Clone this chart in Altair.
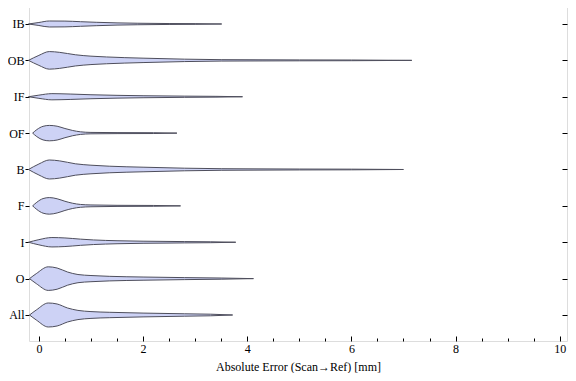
import altair as alt
import pandas as pd

# Categories, bottom (1) to top (9)
categories = ["All", "O", "I", "F", "B", "OF", "IF", "OB", "IB"]

# Violin outlines: x positions (mm) and half-widths (relative density, px-like units)
x_IB = [-0.2, 0.0, 0.2, 0.5, 0.8, 1.1, 1.5, 1.9, 2.5, 3.0, 3.51]
w_IB = [0.0, 1.5, 3.0, 2.9, 2.3, 1.7, 1.1, 0.75, 0.45, 0.35, 0.0]

x_OB = [-0.2, 0.0, 0.2, 0.4, 0.7, 1.0, 1.3, 2.0, 2.8, 3.5, 5.0, 6.0, 7.16]
w_OB = [0.0, 5.0, 8.8, 8.0, 5.6, 4.2, 3.4, 2.2, 1.2, 0.7, 0.45, 0.35, 0.0]

x_IF = [-0.2, 0.0, 0.25, 0.6, 1.0, 1.5, 2.0, 2.8, 3.4, 3.91]
w_IF = [0.0, 1.6, 3.1, 2.7, 2.0, 1.4, 1.0, 0.6, 0.4, 0.0]

x_OF = [-0.12, -0.04, 0.08, 0.2, 0.35, 0.5, 0.65, 0.8, 1.0, 1.5, 2.2, 2.65]
w_OF = [0.0, 3.5, 6.8, 7.7, 6.9, 4.6, 2.6, 1.3, 0.7, 0.5, 0.4, 0.0]

x_B = [-0.2, 0.0, 0.2, 0.4, 0.7, 1.0, 1.35, 2.0, 2.8, 3.5, 5.0, 6.0, 7.0]
w_B = [0.0, 5.5, 9.5, 8.6, 5.7, 4.3, 3.3, 2.3, 1.3, 0.8, 0.45, 0.35, 0.0]

x_F = [-0.12, -0.04, 0.08, 0.2, 0.35, 0.5, 0.65, 0.8, 1.0, 1.5, 2.2, 2.72]
w_F = [0.0, 3.6, 7.3, 8.3, 7.1, 4.6, 2.6, 1.4, 0.9, 0.55, 0.4, 0.0]

x_I = [-0.2, 0.0, 0.25, 0.5, 0.8, 1.05, 1.5, 2.0, 2.8, 3.3, 3.78]
w_I = [0.0, 2.6, 4.7, 4.3, 3.1, 2.3, 1.5, 1.05, 0.65, 0.45, 0.0]

x_O = [-0.18, -0.05, 0.18, 0.35, 0.55, 0.75, 1.0, 1.35, 2.0, 2.8, 3.5, 4.12]
w_O = [0.0, 5.0, 11.8, 10.6, 6.6, 4.1, 3.1, 2.3, 1.6, 1.0, 0.6, 0.0]

x_All = [-0.18, -0.05, 0.18, 0.35, 0.55, 0.75, 1.0, 1.35, 2.0, 2.8, 3.3, 3.72]
w_All = [0.0, 5.0, 12.0, 11.0, 7.0, 4.6, 3.4, 2.7, 1.9, 1.2, 0.8, 0.0]

outlines = {
    "All": (x_All, w_All), "O": (x_O, w_O), "I": (x_I, w_I), "F": (x_F, w_F),
    "B": (x_B, w_B), "OF": (x_OF, w_OF), "IF": (x_IF, w_IF), "OB": (x_OB, w_OB),
    "IB": (x_IB, w_IB),
}

major_ticks = [0, 2, 4, 6, 8, 10]
all_ticks = [i * 0.5 for i in range(21)]

W, H = 538, 342
XD = [-0.19, 10.14]
YD = [0.285, 9.687]
SCALE = 1 / 36.375  # density units -> category units
MIN_W = 0.3

rows = []
for k, cat in enumerate(categories, start=1):
    xs, ws = outlines[cat]
    n = len(xs)
    for i, (x, w) in enumerate(zip(xs, ws)):
        ww = max(w, MIN_W) if 0 < i < n - 1 else w
        rows.append({"cat": cat, "x": x, "lo": k - ww * SCALE, "hi": k + ww * SCALE})
df = pd.DataFrame(rows)

label_expr = "[" + ",".join("'%s'" % c for c in categories) + "][datum.value - 1]"
serif = "Liberation Serif"

xs_ = alt.Scale(domain=XD, nice=False, zero=False)
ys_ = alt.Scale(domain=YD, nice=False, zero=False)
tick_cond = {"condition": {"test": "datum.value % 2 == 0", "value": 5}, "value": 3}

base = alt.Chart(df)

violins = base.mark_area(
    interpolate="monotone", fill="#cdd2f5", stroke="#4e4e5c", strokeWidth=1, strokeJoin="round"
).encode(
    x=alt.X("x:Q", scale=xs_, axis=alt.Axis(
        values=major_ticks, ticks=False, domain=False, grid=False,
        title="Absolute Error (Scan→Ref) [mm]", labelPadding=2, titlePadding=7,
        labelFont=serif, labelFontSize=12, labelColor="black",
        titleFont=serif, titleFontSize=12, titleFontWeight="normal", titleColor="black")),
    y=alt.Y("lo:Q", scale=ys_, axis=alt.Axis(
        values=list(range(1, 10)), labelExpr=label_expr, tickSize=4, tickColor="black",
        domain=False, grid=False, title=None, labelPadding=1,
        labelFont=serif, labelFontSize=12, labelColor="black")),
    y2="hi:Q",
    detail="cat:N",
)

ticks_a = base.mark_point(opacity=0).encode(
    x=alt.X("x:Q", scale=xs_, axis=alt.Axis(
        orient="top", offset=-H, values=all_ticks, labels=False, domain=False,
        grid=False, title=None, tickSize=tick_cond, tickColor="black")),
    y=alt.Y("lo:Q", scale=ys_, axis=alt.Axis(
        orient="left", offset=-W, values=list(range(1, 10)), labels=False,
        domain=False, grid=False, title=None, tickSize=5, tickColor="black")),
)

ticks_b = base.mark_point(opacity=0).encode(
    x=alt.X("x:Q", scale=xs_, axis=alt.Axis(
        orient="bottom", offset=-H, values=all_ticks, labels=False, domain=False,
        grid=False, title=None, tickSize=tick_cond, tickColor="black")),
    y=alt.Y("lo:Q", scale=ys_, axis=None),
)

chart = alt.layer(violins, ticks_a, ticks_b).resolve_scale(
    x="independent", y="independent"
).properties(
    width=W, height=H,
    autosize=alt.AutoSizeParams(type="none"),
    padding={"left": 21, "top": -9, "right": 1, "bottom": 32},
).configure_view(
    stroke="black", strokeWidth=1
).configure(background="white")

chart.save("out.html", embed_options={"renderer": "svg", "actions": False})
